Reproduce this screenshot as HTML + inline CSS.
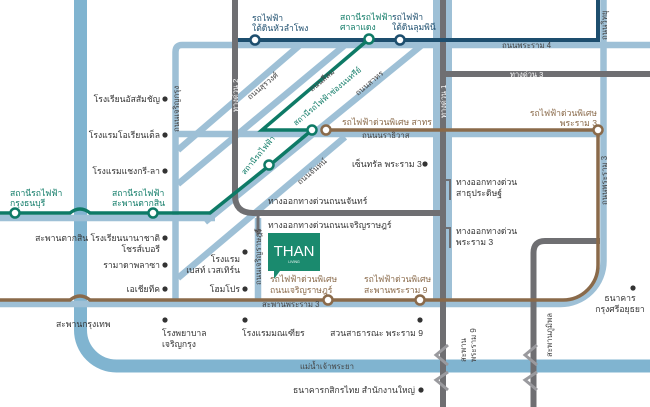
<!DOCTYPE html>
<html><head><meta charset="utf-8"><style>
body{margin:0;background:#fff;width:650px;height:407px;overflow:hidden}
svg{display:block}
text{font-family:"Liberation Sans","Noto Sans CJK SC",sans-serif;font-size:8.6px;fill:#333}
.g{fill:#0e7a66}.n{fill:#1d4e6e}.b{fill:#8a6a4a}.s{font-size:7.8px;fill:#444}.w{fill:#fff;font-size:7.5px}
</style></head><body>
<svg width="650" height="407" viewBox="0 0 650 407">
<path d="M80.5 0 V330 A36 36 0 0 0 116.5 366 H650" fill="none" stroke="#80b4d0" stroke-width="13"/>
<g fill="none" stroke="#9ec0d6" stroke-width="6.5">
<path d="M650 45 H182 Q175.5 45 175.5 52 V304"/>
<path d="M176 134 H602"/>
<path d="M0 304 H560 A43 43 0 0 0 603.5 261 V0"/>
<path d="M0 218 H215"/>
<path d="M178 150 L300 45"/>
<path d="M178 184 L345 45"/>
<path d="M178 278 L345 137"/>
<path d="M205 222 L422 45"/>
<path d="M258 218 V300"/>
</g>
<rect x="433" y="0" width="19" height="300" fill="#9ec0d6"/>
<g fill="none" stroke="#6f6f72" stroke-width="6">
<path d="M235 0 V195 Q235 213 253 213 H443"/>
<path d="M443 0 V407"/>
<path d="M443 74 H650"/>
<path d="M600 241 H545 Q533.5 241 533.5 253 V407"/>
</g>
<path d="M258 216 V232" stroke="#6f6f72" stroke-width="3"/>
<path d="M254 230 L258 236 L262 230Z" fill="#6f6f72"/>
<path d="M446 180 H450 V200" stroke="#6f6f72" stroke-width="2" fill="none"/>
<path d="M446 228 H450 V248" stroke="#6f6f72" stroke-width="2" fill="none"/>
<g fill="none" stroke="#9a9a9e" stroke-width="3">
<path d="M448 345 L436 355 L448 365 M448 372 L436 380 L448 390"/>
<path d="M537 345 L525 355 L537 365 M537 372 L525 380 L537 390"/>
</g>
<path d="M238 40 H598 V0" fill="none" stroke="#1d4e6e" stroke-width="4"/>
<path d="M0 213 H70 Q80 205 90 213 H210 L270 165 L312 130 H262 L369 39" fill="none" stroke="#0e7a66" stroke-width="3.5"/>
<path d="M325 130 H598 V265 A35 35 0 0 1 563 300 H90 Q80 292 70 300 H0" fill="none" stroke="#8a6a4a" stroke-width="3.5"/>
<g fill="#fff" stroke-width="2.5">
<circle cx="255" cy="40" r="4.5" stroke="#1d4e6e"/>
<circle cx="400" cy="40" r="4.5" stroke="#1d4e6e"/>
<circle cx="369" cy="39" r="4.5" stroke="#0e7a66"/>
<circle cx="15" cy="213" r="4.5" stroke="#0e7a66"/>
<circle cx="153" cy="213" r="4.5" stroke="#0e7a66"/>
<circle cx="269" cy="165" r="4.5" stroke="#0e7a66"/>
<circle cx="312" cy="130" r="4.5" stroke="#0e7a66"/>
<circle cx="326" cy="130" r="4.5" stroke="#8a6a4a"/>
<circle cx="598" cy="130" r="4.5" stroke="#8a6a4a"/>
<circle cx="328" cy="300" r="4.5" stroke="#8a6a4a"/>
<circle cx="420" cy="300" r="4.5" stroke="#8a6a4a"/>
</g>
<g fill="#333">
<circle cx="165" cy="99" r="2.6"/><circle cx="165" cy="135" r="2.6"/><circle cx="165" cy="171" r="2.6"/>
<circle cx="165" cy="238" r="2.6"/><circle cx="165" cy="265" r="2.6"/><circle cx="165" cy="289" r="2.6"/>
<circle cx="245" cy="252" r="2.6"/><circle cx="245" cy="289" r="2.6"/>
<circle cx="165" cy="320" r="2.6"/><circle cx="245" cy="320" r="2.6"/><circle cx="420" cy="320" r="2.6"/>
<circle cx="425" cy="164" r="2.6"/><circle cx="633" cy="288" r="2.6"/><circle cx="421" cy="390" r="2.6"/>
</g>
<path d="M268 233 H320 V271 H280 L274 279 V271 H268Z" fill="#1a8a6e"/>
<text x="294" y="256" text-anchor="middle" style="font-size:15px;fill:#fff">THAN</text>
<text x="294" y="263" text-anchor="middle" style="font-size:3.5px;fill:#fff">LIVING</text>
<text x="252" y="21" class="n">รถไฟฟ้า</text><text x="252" y="31" class="n">ใต้ดินหัวลำโพง</text>
<text x="340" y="20" class="g">สถานีรถไฟฟ้า</text><text x="340" y="30" class="g">ศาลาแดง</text>
<text x="392" y="20" class="n">รถไฟฟ้า</text><text x="392" y="30" class="n">ใต้ดินลุมพินี</text>
<text x="502" y="48" class="s">ถนนพระราม 4</text>
<text x="510" y="77" class="w">ทางด่วน 3</text>
<text x="342" y="125" class="b">รถไฟฟ้าด่วนพิเศษ สาทร</text>
<text x="362" y="138" class="s">ถนนนราธิวาส</text>
<text x="597" y="116" class="b" text-anchor="end">รถไฟฟ้าด่วนพิเศษ</text><text x="597" y="126" class="b" text-anchor="end">พระราม 3</text>
<text x="160" y="102" text-anchor="end">โรงเรียนอัสสัมชัญ</text>
<text x="160" y="138" text-anchor="end">โรงแรมโอเรียนเต็ล</text>
<text x="160" y="174" text-anchor="end">โรงแรมแชงกรี-ลา</text>
<text x="352" y="167">เซ็นทรัล พระราม 3</text>
<text x="456" y="185">ทางออกทางด่วน</text><text x="456" y="196">สาธุประดิษฐ์</text>
<text x="10" y="196" class="g">สถานีรถไฟฟ้า</text><text x="10" y="206" class="g">กรุงธนบุรี</text>
<text x="112" y="196" class="g">สถานีรถไฟฟ้า</text><text x="112" y="206" class="g">สะพานตากสิน</text>
<text x="268" y="204">ทางออกทางด่วนถนนจันทร์</text>
<text x="268" y="228">ทางออกทางด่วนถนนเจริญราษฎร์</text>
<text x="456" y="234">ทางออกทางด่วน</text><text x="456" y="245">พระราม 3</text>
<text x="160" y="241" text-anchor="end">สะพานตากสิน โรงเรียนนานาชาติ</text><text x="160" y="252" text-anchor="end">โชรส์เบอรี</text>
<text x="160" y="268" text-anchor="end">รามาดาพลาซา</text>
<text x="160" y="292" text-anchor="end">เอเชียทีค</text>
<text x="240" y="262" text-anchor="end">โรงแรม</text><text x="240" y="273" text-anchor="end">เบสท์ เวสเทิร์น</text>
<text x="240" y="292" text-anchor="end">โฮมโปร</text>
<text x="270" y="282" class="b">รถไฟฟ้าด่วนพิเศษ</text><text x="270" y="293" class="b">ถนนเจริญราษฎร์</text>
<text x="364" y="282" class="b">รถไฟฟ้าด่วนพิเศษ</text><text x="364" y="293" class="b">สะพานพระราม 9</text>
<text x="262" y="307" class="s">สะพานพระราม 3</text>
<text x="56" y="327">สะพานกรุงเทพ</text>
<text x="162" y="336">โรงพยาบาล</text><text x="162" y="347">เจริญกรุง</text>
<text x="242" y="336">โรงแรมมณเฑียร</text>
<text x="423" y="336" text-anchor="end">สวนสาธารณะ พระราม 9</text>
<text x="620" y="301" text-anchor="middle">ธนาคาร</text><text x="620" y="312" text-anchor="middle">กรุงศรีอยุธยา</text>
<text x="300" y="369" class="s">แม่น้ำเจ้าพระยา</text>
<text x="415" y="393" text-anchor="end">ธนาคารกสิกรไทย สำนักงานใหญ่</text>
<text transform="translate(238,112) rotate(-90)" class="w">ทางด่วน 2</text>
<text transform="translate(446,118) rotate(-90)" class="w">ทางด่วน 1</text>
<text transform="translate(179,132) rotate(-90)" class="s">ถนนเจริญกรุง</text>
<text transform="translate(607,40) rotate(-90)" class="s">ถนนวิทยุ</text>
<text transform="translate(607,205) rotate(-90)" class="s">ถนนพระราม 3</text>
<text transform="translate(261,285) rotate(-90)" class="s">ถนนเจริญราษฎร์</text>
<text transform="translate(466,362) rotate(-90)" class="s">สะพาน</text>
<text transform="translate(476,362) rotate(-90)" class="s">พระราม 9</text>
<text transform="translate(552,357) rotate(-90)" class="s">สะพานภูมิพล</text>
<text transform="translate(250,100) rotate(-40)" class="s">ถนนสุรวงศ์</text>
<text transform="translate(312,92) rotate(-40)" class="s">ถนนสีลม</text>
<text transform="translate(296,126) rotate(-40)" class="g" style="font-size:7.8px">สถานีรถไฟฟ้าช่องนนทรีย์</text>
<text transform="translate(358,96) rotate(-40)" class="s">ถนนสาทร</text>
<text transform="translate(245,175) rotate(-50)" class="g" style="font-size:7.8px">สถานีรถไฟฟ้า</text>
<text transform="translate(300,185) rotate(-40)" class="s">ถนนจันทน์</text>
</svg>
</body></html>
